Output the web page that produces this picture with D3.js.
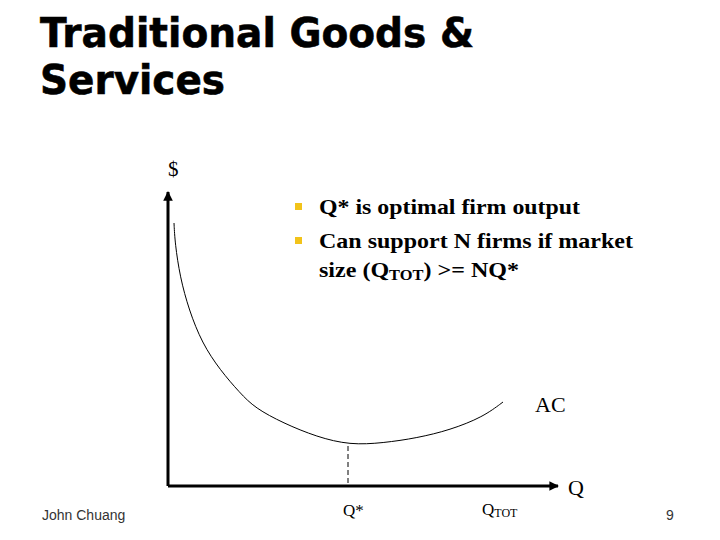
<!DOCTYPE html>
<html><head><meta charset="utf-8">
<script src="https://cdn.jsdelivr.net/npm/d3@7"></script>
<style>body{margin:0;background:#fff}</style>
</head><body>
<svg id="c" width="720" height="540"></svg>
<script>
// Average cost curve (quantity, cost) in chart units
const qValues  = [6, 7, 12, 21, 34, 52, 72, 87, 115, 149, 182, 215, 249, 282, 315, 335];
const acValues = [263, 243, 209, 176, 143, 116, 93, 78, 63, 49, 41, 43, 48, 56, 69, 84];
const qStar = 180;
const tickLabels = ["Q*", "Q", "TOT"];
const bullets = ["Q* is optimal firm output", "Can support N firms if market"];

const svg = d3.select("#c");
const x = d3.scaleLinear().domain([0, 390]).range([168, 558]);
const y = d3.scaleLinear().domain([0, 300]).range([486, 186]);

// Title
const title = svg.append("g").attr("font-family", "DejaVu Sans").attr("font-weight", "bold")
  .attr("font-size", 41).attr("fill", "#000").attr("stroke", "#000").attr("stroke-width", 0.6);
title.append("text").attr("x", 40).attr("y", 47).attr("textLength", 434).attr("lengthAdjust", "spacingAndGlyphs").text("Traditional Goods &");
title.append("text").attr("x", 40).attr("y", 94).attr("textLength", 185).attr("lengthAdjust", "spacingAndGlyphs").text("Services");

// Arrow markers
const defs = svg.append("defs");
defs.append("marker").attr("id", "arr").attr("viewBox", "0 0 10 10").attr("refX", 9).attr("refY", 5)
  .attr("markerWidth", 3.2).attr("markerHeight", 3.2).attr("orient", "auto")
  .append("path").attr("d", "M0,0 L10,5 L0,10 z").attr("fill", "#000");

// Axes
svg.append("line").attr("x1", x(0)).attr("y1", y(0)).attr("x2", x(0)).attr("y2", y(294))
  .attr("stroke", "#000").attr("stroke-width", 3).attr("marker-end", "url(#arr)");
svg.append("line").attr("x1", x(0)).attr("y1", y(0)).attr("x2", x(390)).attr("y2", y(0))
  .attr("stroke", "#000").attr("stroke-width", 3).attr("marker-end", "url(#arr)");

// AC curve
const pts = qValues.map((q, i) => [q, acValues[i]]);
const line = d3.line().x(d => x(d[0])).y(d => y(d[1])).curve(d3.curveBasis);
svg.append("path").attr("d", line(pts)).attr("fill", "none").attr("stroke", "#000").attr("stroke-width", 1);

// dashed line at Q*
const minAC = d3.min(acValues);
svg.append("line").attr("x1", x(qStar)).attr("x2", x(qStar)).attr("y1", y(minAC) + 1).attr("y2", y(0))
  .attr("stroke", "#000").attr("stroke-width", 1).attr("stroke-dasharray", "5,3");

const serif = "Liberation Serif";
svg.append("text").attr("x", 168).attr("y", 176).attr("font-family", serif).attr("font-size", 21).text("$");
svg.append("text").attr("x", 568).attr("y", 495).attr("font-family", serif).attr("font-size", 22).text("Q");
svg.append("text").attr("x", 535).attr("y", 412).attr("font-family", serif).attr("font-size", 22).text("AC");

// Tick labels
svg.append("text").attr("x", x(qStar) - 5).attr("y", 516).attr("font-family", serif).attr("font-size", 17).text(tickLabels[0]);
const qt = svg.append("text").attr("x", 482).attr("y", 515).attr("font-family", serif).attr("font-size", 17);
qt.append("tspan").text(tickLabels[1]);
qt.append("tspan").attr("font-size", 12).attr("dy", 2).text(tickLabels[2]);

// Bullets
const bg = svg.append("g").attr("font-family", serif).attr("font-weight", "bold").attr("font-size", 22);
const lens = [261, 314];
[214, 248].forEach((by, i) => {
  svg.append("rect").attr("x", 295).attr("y", by - 11).attr("width", 7).attr("height", 7).attr("fill", "#f2c31a");
  bg.append("text").attr("x", 319).attr("y", by).attr("textLength", lens[i]).attr("lengthAdjust", "spacingAndGlyphs").text(bullets[i]);
});
const l3 = bg.append("text").attr("x", 319).attr("y", 277).attr("textLength", 200).attr("lengthAdjust", "spacingAndGlyphs");
l3.append("tspan").text("size (Q");
l3.append("tspan").attr("font-size", 15).attr("dy", 3).text("TOT");
l3.append("tspan").attr("dy", -3).text(") >= NQ*");

// Footer
svg.append("text").attr("x", 42).attr("y", 520).attr("font-family", "Liberation Sans").attr("font-size", 14).attr("fill", "#333").text("John Chuang");
svg.append("text").attr("x", 666).attr("y", 520).attr("font-family", "Liberation Sans").attr("font-size", 14).attr("fill", "#333").text("9");
</script>
</body></html>
